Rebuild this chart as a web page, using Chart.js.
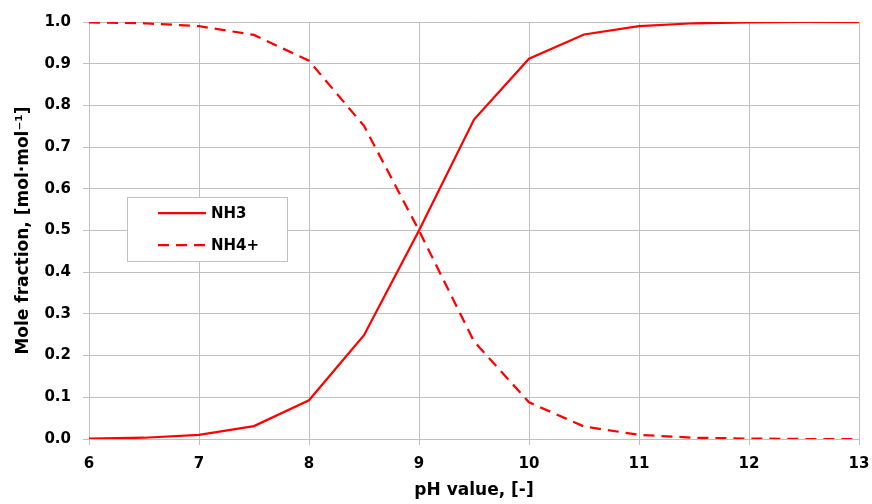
<!DOCTYPE html>
<html>
<head>
<meta charset="utf-8">
<script src="https://cdn.jsdelivr.net/npm/chart.js@4.4.1/dist/chart.umd.min.js"></script>
<style>
  html, body { margin: 0; padding: 0; background: #fff; }
  #wrap { width: 872px; height: 504px; }
</style>
</head>
<body>
<div id="wrap"><canvas id="chart"></canvas></div>
<script>
// pH values and mole fractions
const phValues = [6, 6.5, 7, 7.5, 8, 8.5, 9, 9.5, 10, 10.5, 11, 11.5, 12, 12.5, 13];
const nh3 = [0.001, 0.003, 0.010, 0.031, 0.093, 0.249, 0.500, 0.766, 0.912, 0.970, 0.990, 0.997, 0.999, 1.000, 1.000];
const nh4 = [0.999, 0.997, 0.990, 0.969, 0.907, 0.751, 0.500, 0.234, 0.088, 0.030, 0.010, 0.003, 0.001, 0.000, 0.000];
const xTicks = [6, 7, 8, 9, 10, 11, 12, 13];
const yTicks = [0, 0.1, 0.2, 0.3, 0.4, 0.5, 0.6, 0.7, 0.8, 0.9, 1.0];

const gridGray = '#c0c0c0';
const font = 'DejaVu Sans, sans-serif';
const dash = [11, 7];

function toPoints(ys) {
  return phValues.map((x, i) => ({ x: x, y: ys[i] }));
}

// legend box sits inside the plot, like the excel one
const boxLegend = {
  id: 'boxLegend',
  afterDraw(chart) {
    const ctx = chart.ctx;
    ctx.save();
    ctx.fillStyle = '#fff';
    ctx.fillRect(127.5, 197.5, 160, 64);
    ctx.strokeStyle = gridGray;
    ctx.lineWidth = 1;
    ctx.strokeRect(127.5, 197.5, 160, 64);
    ctx.strokeStyle = '#ff0000';
    ctx.lineWidth = 2.25;
    ctx.beginPath();
    ctx.moveTo(158, 213);
    ctx.lineTo(206, 213);
    ctx.stroke();
    ctx.setLineDash(dash);
    ctx.beginPath();
    ctx.moveTo(158, 245);
    ctx.lineTo(206, 245);
    ctx.stroke();
    ctx.setLineDash([]);
    ctx.fillStyle = '#000';
    ctx.font = 'bold 15px ' + font;
    ctx.textBaseline = 'middle';
    ctx.fillText('NH3', 211, 214);
    ctx.fillText('NH4+', 211, 246);
    ctx.restore();
  }
};

new Chart(document.getElementById('chart'), {
  type: 'line',
  data: {
    datasets: [
      {
        label: 'NH3',
        data: toPoints(nh3),
        borderColor: '#ff0000',
        borderWidth: 2.25,
        pointRadius: 0,
        tension: 0,
        fill: false
      },
      {
        label: 'NH4+',
        data: toPoints(nh4),
        borderColor: '#ff0000',
        borderWidth: 2.25,
        borderDash: dash,
        pointRadius: 0,
        tension: 0,
        fill: false
      }
    ]
  },
  options: {
    responsive: true,
    maintainAspectRatio: false,
    animation: false,
    layout: { padding: { top: 22, right: 0, left: 0, bottom: 0 } },
    plugins: {
      legend: { display: false },
      tooltip: { enabled: false }
    },
    scales: {
      x: {
        type: 'linear',
        min: 6,
        max: 13,
        afterBuildTicks: s => { s.ticks = xTicks.map(v => ({ value: v })); },
        afterFit: s => { s.height = 65; s.paddingRight = 13; s.paddingLeft = 0; },
        grid: { color: gridGray, lineWidth: 1, tickLength: 6, drawTicks: true },
        border: { color: gridGray },
        ticks: {
          color: '#000',
          padding: 10,
          maxRotation: 0,
          font: { family: font, size: 15, weight: 'bold' }
        },
        title: {
          display: true,
          text: 'pH value, [-]',
          color: '#000',
          padding: { top: 0, bottom: 3 },
          font: { family: font, size: 17, weight: 'bold' }
        }
      },
      y: {
        min: 0,
        max: 1,
        afterBuildTicks: s => { s.ticks = yTicks.map(v => ({ value: v })); },
        afterFit: s => { s.width = 89; s.paddingTop = 0; s.paddingBottom = 0; },
        grid: { color: gridGray, lineWidth: 1, tickLength: 6 },
        border: { color: gridGray },
        ticks: {
          color: '#000',
          padding: 12,
          callback: v => v.toFixed(1),
          font: { family: font, size: 15, weight: 'bold' }
        },
        title: {
          display: true,
          text: 'Mole fraction, [mol·mol⁻¹]',
          color: '#000',
          padding: { top: 13, bottom: 0 },
          font: { family: font, size: 17, weight: 'bold' }
        }
      }
    }
  },
  plugins: [boxLegend]
});
</script>
</body>
</html>
